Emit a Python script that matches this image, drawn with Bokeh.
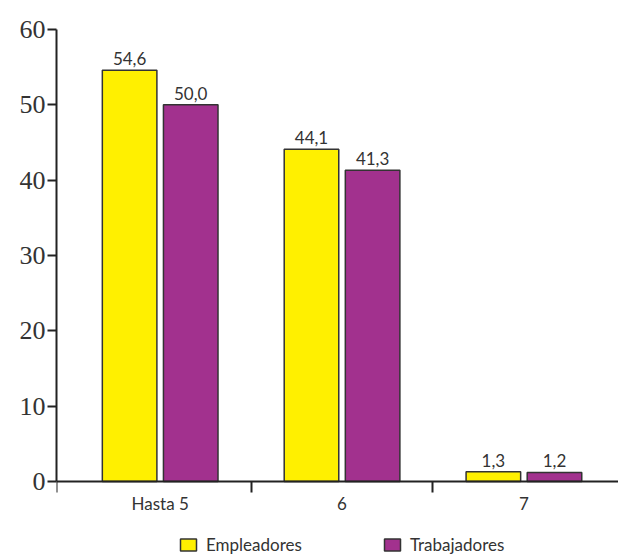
from bokeh.plotting import figure
from bokeh.models import ColumnDataSource, Range1d, FixedTicker, LabelSet, Legend, LegendItem
from bokeh.core.properties import value
from bokeh.embed import file_html
from bokeh.resources import INLINE

categories = ["Hasta 5", "6", "7"]
empleadores = [54.6, 44.1, 1.3]
trabajadores = [50.0, 41.3, 1.2]
series_names = ["Empleadores", "Trabajadores"]
y_ticks = [0, 10, 20, 30, 40, 50, 60]

YELLOW = "#FFF000"
PURPLE = "#A2318E"
TEXT = "#333333"
SANS = "Lato"

n = len(categories)
centers = [i + 0.5 for i in range(n)]
bar_w = 0.30
off = 0.168

# the plot frame reaches the bottom of the page; the value axis keeps 452 px for 0..60
Y_MAX = 60
below_px = 74
frame_px = 452
y_start = -below_px / frame_px * Y_MAX

def fmt(v):
    return f"{v:.1f}".replace(".", ",")

src_e = ColumnDataSource(dict(x=[c - off for c in centers], top=empleadores,
                              lab=[fmt(v) for v in empleadores]))
src_t = ColumnDataSource(dict(x=[c + off for c in centers], top=trabajadores,
                              lab=[fmt(v) for v in trabajadores]))

p = figure(width=618, height=555, frame_width=562, frame_height=frame_px + below_px,
           output_backend="svg", toolbar_location=None,
           x_range=Range1d(-0.07, 3.02), y_range=Range1d(y_start, Y_MAX),
           min_border_left=56, min_border_right=0, min_border_top=29, min_border_bottom=0)
p.outline_line_color = None
p.xgrid.visible = False
p.ygrid.visible = False

re = p.vbar(x="x", top="top", width=bar_w, source=src_e, fill_color=YELLOW,
            line_color="#333333", line_width=1.5)
rt = p.vbar(x="x", top="top", width=bar_w, source=src_t, fill_color=PURPLE,
            line_color="#333333", line_width=1.5)

for s in (src_e, src_t):
    p.add_layout(LabelSet(x="x", y="top", text="lab", source=s, text_align="center",
                          text_baseline="bottom", y_offset=5, text_font=value(SANS),
                          text_font_size="17px", text_color=TEXT))

# y axis
ya = p.yaxis[0]
ya.bounds = (0, Y_MAX)
ya.ticker = FixedTicker(ticks=y_ticks, minor_ticks=[])
ya.axis_line_width = 2
ya.axis_line_color = "#222222"
ya.major_tick_line_width = 2
ya.major_tick_line_color = "#222222"
ya.major_tick_out = 9
ya.major_tick_in = 0
ya.minor_tick_out = 0
ya.minor_tick_in = 0
ya.major_label_text_font = "Liberation Serif"
ya.major_label_text_font_size = "26px"
ya.major_label_text_color = TEXT
ya.major_label_standoff = 2

# x axis, drawn at y = 0
xa = p.xaxis[0]
xa.fixed_location = 0
xa.ticker = FixedTicker(ticks=centers, minor_ticks=[-0.07, 1, 2])
xa.major_label_overrides = {c: lab for c, lab in zip(centers, categories)}
xa.axis_line_width = 2
xa.axis_line_color = "#222222"
xa.major_tick_out = 0
xa.major_tick_in = 0
xa.minor_tick_out = 11
xa.minor_tick_in = 0
xa.minor_tick_line_width = 2
xa.minor_tick_line_color = "#222222"
xa.major_label_text_font = SANS
xa.major_label_text_font_size = "17px"
xa.major_label_text_color = TEXT
xa.major_label_standoff = 0

legend = Legend(items=[LegendItem(label=series_names[0], renderers=[re]),
                       LegendItem(label=series_names[1], renderers=[rt])],
                orientation="horizontal", location=(122, 0),
                border_line_color=None, background_fill_alpha=0,
                label_text_font=SANS, label_text_font_size="17px",
                label_text_color=TEXT, glyph_width=20, glyph_height=15,
                label_standoff=8, spacing=80, margin=0, padding=0)
p.add_layout(legend, "center")

open("out.html", "w").write(file_html(p, INLINE))
